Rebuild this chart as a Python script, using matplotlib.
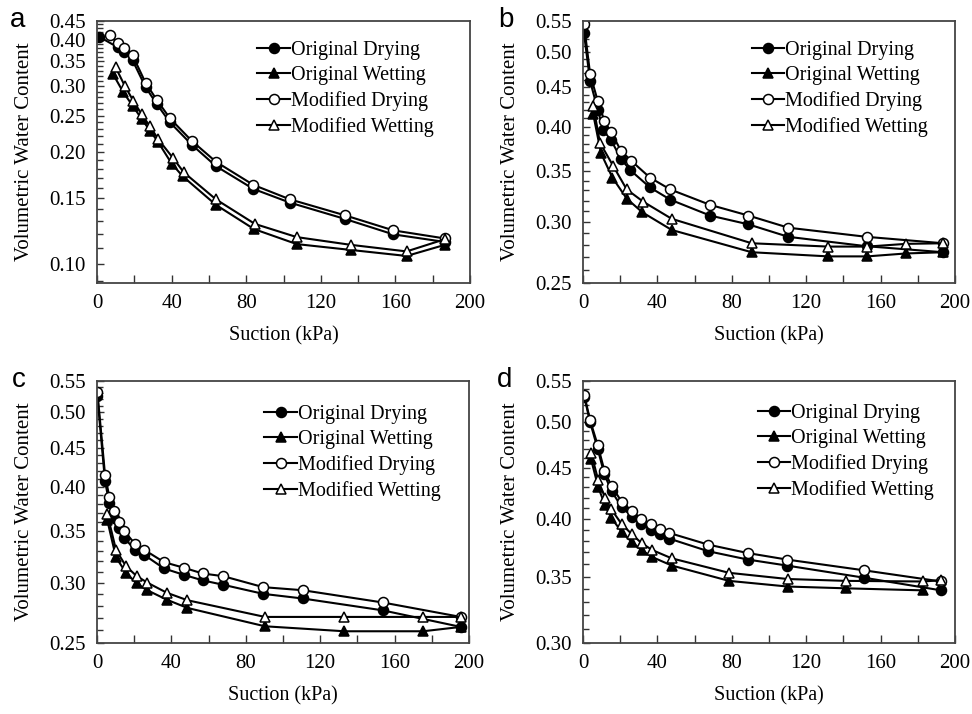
import matplotlib
matplotlib.use('Agg')
import matplotlib.pyplot as plt
from matplotlib.ticker import MultipleLocator, FormatStrFormatter, NullFormatter

plt.rcParams['font.family'] = ['Liberation Serif', 'DejaVu Serif']

LABELS = ['Original Drying', 'Original Wetting', 'Modified Drying', 'Modified Wetting']

# ── panel a ───────────────────────────────────────────────────────
a_od_x = [1, 11, 14.7, 19.1, 26.1, 32, 39.1, 50.8, 63.8, 83.8, 103.5, 133, 158.9, 186.6]
a_od_y = [0.408, 0.382, 0.370, 0.352, 0.298, 0.269, 0.240, 0.209, 0.183, 0.159, 0.146, 0.132, 0.120, 0.1145]
a_ow_x = [8.5, 14.1, 19.1, 24, 28.4, 32.9, 40, 45.9, 63.8, 84.2, 107.1, 136, 166, 186.6]
a_ow_y = [0.324, 0.289, 0.266, 0.245, 0.228, 0.212, 0.186, 0.172, 0.144, 0.124, 0.113, 0.109, 0.105, 0.1125]
a_md_x = [7, 11, 14.7, 19.1, 26.1, 32, 39.1, 50.8, 63.8, 83.8, 103.5, 133, 158.9, 186.6]
a_md_y = [0.411, 0.392, 0.380, 0.363, 0.306, 0.276, 0.246, 0.214, 0.188, 0.163, 0.149, 0.135, 0.123, 0.117]
a_mw_x = [10, 15, 19.5, 24, 28.4, 32.9, 40.9, 46.6, 63.8, 84.7, 107.1, 136, 166, 186.6]
a_mw_y = [0.337, 0.300, 0.274, 0.252, 0.234, 0.216, 0.192, 0.176, 0.149, 0.128, 0.118, 0.1125, 0.108, 0.1165]

# ── panel b ───────────────────────────────────────────────────────
b_od_x = [0.5, 3.8, 7.9, 10.9, 15.1, 20.4, 25.3, 36, 46.9, 68.3, 88.9, 110.4, 152.5, 193.7]
b_od_y = [0.53, 0.459, 0.421, 0.396, 0.384, 0.363, 0.351, 0.333, 0.321, 0.306, 0.298, 0.287, 0.279, 0.274]
b_ow_x = [5.5, 9.7, 15.8, 23.5, 31.9, 47.7, 90.7, 131.9, 152.8, 173.7, 193.7]
b_ow_y = [0.415, 0.369, 0.343, 0.322, 0.309, 0.293, 0.274, 0.2706, 0.2706, 0.273, 0.274]
b_md_x = [0.5, 3.8, 7.9, 11.5, 15.1, 20.4, 25.8, 36, 46.9, 68.3, 88.9, 110.4, 152.5, 193.7]
b_md_y = [0.545, 0.469, 0.432, 0.407, 0.393, 0.372, 0.361, 0.343, 0.331, 0.316, 0.306, 0.295, 0.287, 0.2815]
b_mw_x = [5.5, 9.1, 16.3, 23.5, 32.4, 47.7, 90.7, 131.9, 152.8, 173.7, 193.7]
b_mw_y = [0.426, 0.381, 0.355, 0.331, 0.319, 0.303, 0.2815, 0.2787, 0.2787, 0.281, 0.2815]

# ── panel c ───────────────────────────────────────────────────────
c_od_x = [0.2, 4.3, 6.6, 9.1, 12, 14.7, 20.4, 25.4, 36, 46.8, 56.8, 67.9, 89.4, 110.6, 153.6, 195.6]
c_od_y = [0.525, 0.407, 0.381, 0.364, 0.353, 0.343, 0.331, 0.326, 0.313, 0.307, 0.302, 0.298, 0.290, 0.286, 0.276, 0.2626]
c_ow_x = [5.5, 10.2, 15.6, 21.3, 27, 37.5, 48.6, 90.3, 133, 175.3, 195.6]
c_ow_y = [0.362, 0.3236, 0.309, 0.2992, 0.2932, 0.285, 0.278, 0.2631, 0.2592, 0.2592, 0.2626]
c_md_x = [0.2, 4.3, 6.6, 9.1, 12, 14.7, 20.4, 25.4, 36, 46.8, 56.8, 67.9, 89.4, 110.6, 153.6, 195.6]
c_md_y = [0.532, 0.415, 0.388, 0.372, 0.360, 0.350, 0.337, 0.331, 0.319, 0.3136, 0.3083, 0.3058, 0.2959, 0.2932, 0.2826, 0.2706]
c_mw_x = [5.5, 10.2, 15.6, 21.3, 27, 37.5, 48.6, 90.3, 133, 175.3, 195.6]
c_mw_y = [0.369, 0.331, 0.315, 0.306, 0.300, 0.291, 0.2845, 0.2706, 0.2706, 0.2706, 0.2706]

# ── panel d ───────────────────────────────────────────────────────
d_od_x = [0.7, 3.8, 7.9, 11.5, 15.4, 20.8, 26.2, 31.2, 36.6, 41.4, 46.4, 67.4, 88.5, 109.5, 151.3, 192.5]
d_od_y = [0.530, 0.500, 0.470, 0.443, 0.426, 0.411, 0.402, 0.395, 0.390, 0.386, 0.382, 0.371, 0.364, 0.359, 0.349, 0.339]
d_ow_x = [4.3, 8.2, 11.8, 15.1, 20.8, 26.2, 31.5, 37.3, 47.7, 78.5, 110, 141.2, 182.6]
d_ow_y = [0.459, 0.430, 0.413, 0.401, 0.388, 0.379, 0.372, 0.366, 0.359, 0.3465, 0.342, 0.3406, 0.339]
d_md_x = [0.7, 3.8, 7.9, 11.5, 15.4, 20.8, 26.2, 31.2, 36.6, 41.4, 46.4, 67.4, 88.5, 109.5, 151.3, 192.5]
d_md_y = [0.532, 0.502, 0.474, 0.447, 0.431, 0.416, 0.407, 0.400, 0.395, 0.391, 0.387, 0.3767, 0.3695, 0.364, 0.355, 0.346]
d_mw_x = [4.3, 8.2, 11.8, 15.1, 20.8, 26.2, 31.5, 37.3, 47.7, 78.5, 110, 141.2, 182.6, 192.5]
d_mw_y = [0.466, 0.437, 0.420, 0.409, 0.395, 0.386, 0.378, 0.372, 0.365, 0.353, 0.348, 0.3465, 0.346, 0.347]

X_TICKS = [0, 40, 80, 120, 160, 200]

# marker styles in LABELS order
STYLES = [('o', 'black'), ('^', 'black'), ('o', 'white'), ('^', 'white')]

W, H = 972, 714
fig = plt.figure(figsize=(W / 100, H / 100), dpi=100)
fig.patch.set_facecolor('white')


def px_axes(left, top, right, bottom):
    return fig.add_axes([left / W, 1 - bottom / H, (right - left) / W, (bottom - top) / H])


def panel(ax, series, ylim, letter, letter_xy, leg_anchor):
    for (x, y), lab, (mk, fc) in zip(series, LABELS, STYLES):
        ms = 7.2 if mk == 'o' else 7.8
        ax.plot(x, y, color='black', lw=1.5, marker=mk, ms=ms, mfc=fc,
                mec='black', mew=1.1, label=lab)
    ax.set_yscale('log')
    ax.set_xlim(0, 200)
    ax.set_ylim(*ylim)
    ax.xaxis.set_major_locator(MultipleLocator(40))
    ax.xaxis.set_minor_locator(MultipleLocator(20))
    ax.yaxis.set_major_locator(MultipleLocator(0.05))
    ax.yaxis.set_major_formatter(FormatStrFormatter('%.2f'))
    ax.yaxis.set_minor_locator(MultipleLocator(0.01))
    ax.yaxis.set_minor_formatter(NullFormatter())
    ax.set_xticks(X_TICKS)
    ax.tick_params(axis='x', which='both', direction='in', length=6, width=1,
                   labelsize=15, pad=8, color='#333')
    ax.tick_params(axis='y', which='major', direction='in', length=5, width=1,
                   labelsize=15, pad=8, color='#333')
    ax.tick_params(axis='y', which='minor', direction='in', length=4, width=1,
                   color='#333')
    for s in ax.spines.values():
        s.set_color('#444')
        s.set_linewidth(1.3)
    ax.set_xlabel('Suction (kPa)', fontsize=14.5)
    ax.set_ylabel('Volumetric Water Content', fontsize=15)
    ax.xaxis.set_label_coords(0.5, -0.165)
    ax.yaxis.set_label_coords(-0.17, 0.5)
    ax.legend(loc='upper left', bbox_to_anchor=leg_anchor, frameon=False,
              fontsize=14.5, handlelength=1.6, handletextpad=0.05,
              borderpad=0, borderaxespad=0, labelspacing=0.3, numpoints=1)
    fig.text(letter_xy[0] / W, 1 - letter_xy[1] / H, letter, fontsize=20,
             family=['Liberation Sans', 'DejaVu Sans'], va='baseline', ha='left')


ax_a = px_axes(97, 20.7, 470, 282.7)
panel(ax_a, [(a_od_x, a_od_y), (a_ow_x, a_ow_y), (a_md_x, a_md_y), (a_mw_x, a_mw_y)],
      (0.089, 0.45), 'a', (10, 26.7), (0.43, 0.922))

ax_b = px_axes(583, 20.7, 955, 282.7)
panel(ax_b, [(b_od_x, b_od_y), (b_ow_x, b_ow_y), (b_md_x, b_md_y), (b_mw_x, b_mw_y)],
      (0.25, 0.55), 'b', (498, 26.7), (0.455, 0.922))

ax_c = px_axes(97, 380.7, 469, 643.3)
panel(ax_c, [(c_od_x, c_od_y), (c_ow_x, c_ow_y), (c_md_x, c_md_y), (c_mw_x, c_mw_y)],
      (0.25, 0.55), 'c', (12, 386.7), (0.45, 0.907))

ax_d = px_axes(583, 380.7, 955, 643.3)
panel(ax_d, [(d_od_x, d_od_y), (d_ow_x, d_ow_y), (d_md_x, d_md_y), (d_mw_x, d_mw_y)],
      (0.30, 0.55), 'd', (497, 386.7), (0.47, 0.912))

fig.savefig('out.png', dpi=100, facecolor='white')
